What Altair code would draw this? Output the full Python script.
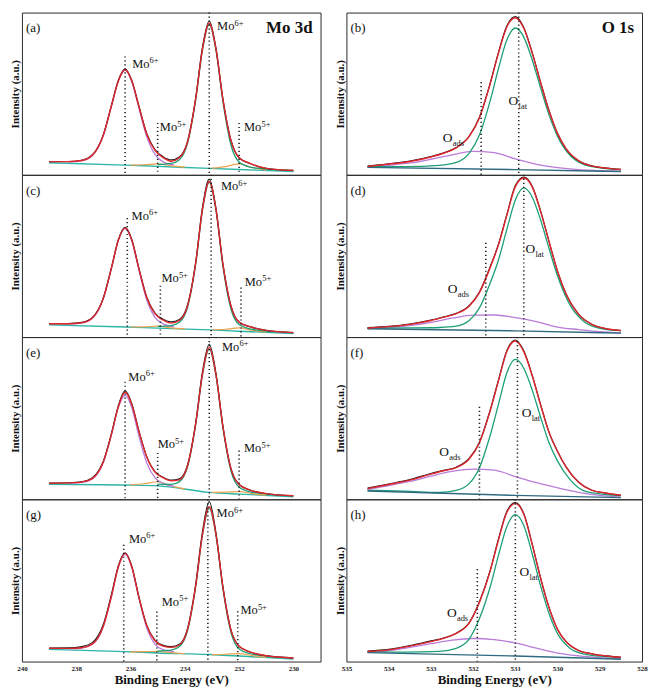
import altair as alt
import pandas as pd

SERIF = "Liberation Serif"

# ---------------- Mo 3d column (binding energy grids, eV) ----------------
MO_ENV_X = [239.0, 238.3, 237.8, 237.4, 237.0, 236.7, 236.45, 236.2, 235.95, 235.7, 235.4, 235.1, 234.8,
            234.5, 234.2, 233.9, 233.6, 233.35, 233.1, 232.85, 232.6, 232.3, 232.0, 231.6, 231.0, 230.0]
MO_P_X = [238.3, 237.8, 237.4, 237.0, 236.7, 236.45, 236.2, 235.95, 235.7, 235.4, 235.1, 234.8, 234.4]
MO_G_X = [235.0, 234.5, 234.2, 233.9, 233.6, 233.35, 233.1, 232.85, 232.6, 232.3, 232.0, 231.6, 231.2, 230.6]
MO_O1_X = [236.0, 235.5, 235.0, 234.5, 234.0]
MO_O2_X = [233.0, 232.5, 232.0, 231.5, 231.0]
MO_BG_X = [239.0, 236.2, 235.0, 233.1, 232.0, 230.0]
MO_TICKS = [240, 238, 236, 234, 232, 230]
MO_SUP = ["6+", "5+", "6+", "5+"]

# panel (a)
A_BG = [7.4, 6.0, 5.2, 4.0, 3.3, 2.0]
A_P = [7.9, 8.6, 11.9, 24.3, 42.4, 57.5, 64.5, 57.2, 41.8, 23.4, 12.6, 8.0, 6.1]
A_G = [6.3, 7.0, 9.3, 19.4, 46.2, 76.9, 92.6, 76.5, 45.6, 18.4, 7.9, 4.8, 3.9, 3.0]
A_O1 = [6.0, 6.2, 6.7, 5.5, 4.7]
A_O2 = [4.1, 5.1, 6.7, 4.4, 2.9]
A_ENV = [8.1, 8.1, 8.8, 12.2, 24.6, 42.8, 57.9, 64.8, 57.8, 42.7, 25.0, 15.1, 10.6,
         8.4, 10.5, 20.2, 46.8, 77.5, 93.4, 77.3, 47.0, 21.2, 10.5, 7.1, 4.0, 2.7]
A_RAW = [8.1, 8.2, 9.0, 12.4, 24.8, 43.0, 58.2, 65.3, 58.0, 42.9, 25.3, 15.6, 11.2,
         9.2, 11.0, 20.6, 47.3, 78.5, 94.8, 77.8, 47.2, 21.3, 10.5, 7.0, 4.0, 2.7]
A_LINE_X = [236.2, 235.0, 233.1, 232.0]
A_LINE_TOP = [73, 32, 100, 32]
A_LAB_X = [235.94, 234.92, 232.81, 231.82]
A_LAB_Y = [66, 27, 89, 27]

# panel (c)
C_BG = [7.5, 6.2, 5.5, 4.4, 3.6, 2.1]
C_P = [8.0, 8.6, 11.6, 23.7, 42.4, 59.3, 66.8, 59.1, 41.9, 22.8, 12.2, 8.1, 6.4]
C_G = [6.5, 7.1, 9.1, 18.4, 44.9, 78.2, 95.4, 77.9, 44.2, 17.3, 7.7, 5.0, 4.0, 3.2]
C_O1 = [6.2, 6.3, 6.7, 5.7, 5.0]
C_O2 = [4.5, 4.8, 5.6, 4.1, 3.0]
C_ENV = [8.2, 8.2, 8.8, 11.9, 24.0, 42.8, 59.7, 67.3, 59.7, 42.8, 24.2, 14.4, 10.5,
         8.6, 10.2, 19.2, 45.5, 78.7, 95.9, 78.5, 45.2, 19.1, 9.2, 6.4, 4.1, 2.7]
C_RAW = [8.2, 8.3, 9.0, 12.1, 24.2, 43.0, 60.0, 67.6, 60.0, 43.0, 24.5, 14.8, 11.0,
         9.4, 10.8, 19.6, 46.0, 79.8, 97.3, 79.0, 45.4, 19.2, 9.2, 6.4, 4.1, 2.7]
C_LINE_X = [236.12, 234.9, 233.03, 231.93]
C_LINE_TOP = [73.4, 31.7, 100, 30.5]
C_LAB_X = [235.96, 234.86, 232.67, 231.79]
C_LAB_Y = [72.4, 33.7, 90.6, 31.7]

# panel (e)
E_BG = [9.3, 8.8, 8.3, 4.3, 3.2, 1.6]
E_P = [9.9, 10.4, 12.6, 22.8, 39.9, 56.5, 64.1, 56.4, 39.6, 22.4, 13.3, 9.8, 8.0]
E_G = [9.4, 9.2, 10.9, 20.0, 46.0, 76.7, 92.5, 76.0, 44.4, 17.5, 7.4, 4.6, 3.6, 2.7]
E_O1 = [8.9, 9.6, 10.8, 8.3, 6.4]
E_O2 = [4.3, 4.4, 4.7, 3.5, 2.5]
E_ENV = [9.9, 10.1, 10.6, 12.9, 23.1, 40.3, 57.0, 66.0, 58.3, 42.5, 26.0, 16.8, 13.3,
         11.4, 12.0, 20.7, 46.5, 77.1, 93.5, 76.5, 45.2, 18.9, 9.1, 5.7, 3.5, 2.2]
E_RAW = [10.0, 10.2, 10.8, 13.3, 23.6, 40.8, 57.6, 66.8, 58.8, 42.8, 26.2, 17.0, 13.6,
         11.8, 12.6, 21.2, 47.0, 78.5, 95.5, 77.5, 45.6, 19.0, 9.1, 5.7, 3.5, 2.2]
E_LINE_X = [236.2, 235.0, 233.1, 232.0]
E_LINE_TOP = [72.5, 28.6, 100, 30]
E_LAB_X = [236.08, 235.0, 232.63, 231.82]
E_LAB_Y = [73.2, 31.6, 91.5, 29]

# panel (g)
G_BG = [7.5, 6.1, 5.3, 4.3, 3.4, 1.6]
G_P = [7.9, 8.3, 10.6, 21.6, 40.1, 58.0, 66.2, 57.7, 39.5, 20.7, 10.8, 7.3, 6.1]
G_G = [6.4, 7.0, 9.2, 19.0, 46.1, 77.9, 94.5, 77.6, 45.4, 18.0, 7.7, 4.8, 3.8, 2.8]
G_O1 = [6.0, 6.1, 6.3, 5.5, 4.8]
G_O2 = [4.3, 4.5, 4.9, 3.6, 2.6]
G_ENV = [8.2, 8.1, 8.5, 10.9, 21.9, 40.5, 58.4, 66.7, 58.3, 40.3, 22.0, 12.8, 9.5,
         8.7, 10.2, 19.7, 46.6, 78.3, 95.5, 78.1, 46.2, 19.4, 9.4, 5.9, 3.6, 2.2]
G_RAW = [8.3, 8.4, 9.2, 11.8, 23.0, 41.5, 59.0, 67.0, 58.6, 40.5, 22.3, 13.2, 10.0,
         9.2, 10.6, 20.3, 47.5, 80.0, 98.6, 79.0, 46.6, 19.5, 9.4, 5.9, 3.6, 2.2]
G_LINE_X = [236.25, 235.03, 233.15, 232.05]
G_LINE_TOP = [72, 30.8, 100, 31]
G_LAB_X = [236.06, 234.85, 232.83, 231.95]
G_LAB_Y = [73.3, 34.4, 89, 29.1]

# ---------------- O 1s column ----------------
O_ENV_X = [534.5, 534.0, 533.5, 533.0, 532.7, 532.4, 532.1, 531.85, 531.6, 531.4, 531.2, 531.0,
           530.8, 530.6, 530.4, 530.2, 530.0, 529.8, 529.5, 529.2, 528.9, 528.5]
O_G_X = [534.5, 533.6, 532.8, 532.4, 532.1, 531.85, 531.6, 531.4, 531.2, 531.0, 530.8, 530.6,
         530.4, 530.2, 530.0, 529.7, 529.4, 529.0, 528.5]
O_P_X = [534.5, 534.0, 533.5, 533.0, 532.5, 532.0, 531.5, 531.0, 530.5, 530.0, 529.5, 529.0, 528.5]
O_BG_X = [534.5, 531.0, 528.5]
O_TICKS = [535, 534, 533, 532, 531, 530, 529, 528]
O_SUB = ["ads", "lat"]

# panel (b)
B_BG = [4.6, 3.2, 2.0]
B_G = [5.0, 5.0, 5.8, 7.6, 13.1, 24.5, 45.3, 65.4, 83.2, 90.5, 84.9, 70.8, 53.4, 36.8, 23.7, 11.9, 6.6, 4.3, 3.2]
B_P = [4.7, 5.9, 7.3, 9.6, 12.3, 14.4, 13.7, 9.8, 6.5, 4.4, 3.2, 2.6, 2.1]
B_ENV = [5.2, 6.6, 8.2, 11.0, 13.3, 16.6, 23.4, 35.2, 55.7, 75.0, 91.3, 96.8,
         90.3, 75.0, 56.6, 39.3, 25.4, 16.1, 8.6, 5.5, 4.3, 3.3]
B_RAW = [5.4, 6.8, 8.5, 11.3, 13.5, 16.8, 23.6, 35.5, 56.0, 75.4, 91.8, 97.5,
         90.8, 75.3, 56.8, 39.4, 25.4, 16.0, 8.6, 5.5, 4.3, 3.3]
B_LINE_X = [531.81, 530.92]
B_LINE_TOP = [57.2, 100]
B_LAB_X = [532.72, 531.16]
B_LAB_Y = [20.5, 43.2]

# panel (d)
D_BG = [5.1, 3.8, 2.4]
D_G = [5.5, 5.6, 5.9, 6.7, 10.0, 18.0, 33.0, 47.5, 66.5, 84.5, 91.9, 86.2, 72.0, 54.4, 37.6, 19.5, 10.1, 5.4, 3.9]
D_P = [5.2, 5.8, 7.0, 9.0, 11.6, 13.5, 13.6, 12.0, 9.5, 6.1, 4.6, 3.3, 2.5]
D_ENV = [5.6, 6.4, 7.8, 10.2, 12.2, 14.4, 18.9, 27.4, 42.6, 56.8, 75.2, 92.7,
         98.0, 92.6, 77.3, 58.6, 40.5, 26.7, 14.0, 8.0, 5.4, 4.0]
D_RAW = [5.8, 6.6, 8.0, 10.4, 12.4, 14.6, 19.2, 27.8, 43.0, 57.2, 75.6, 93.4,
         98.6, 93.0, 77.5, 58.7, 40.5, 26.6, 14.0, 8.0, 5.4, 4.0]
D_LINE_X = [531.70, 530.80]
D_LINE_TOP = [58.1, 100]
D_LAB_X = [532.6, 530.76]
D_LAB_Y = [27, 52]

# panel (f)
F_BG = [5.1, 2.4, 1.0]
F_G = [5.5, 5.0, 4.2, 5.5, 9.5, 19.5, 39.0, 58.5, 78.0, 86.2, 80.8, 67.3, 50.5, 34.7, 23.5, 12.0, 5.5, 3.3, 2.2]
F_P = [6.1, 8.5, 11.0, 14.3, 17.2, 18.6, 18.0, 14.0, 10.2, 7.1, 4.3, 2.4, 1.3]
F_ENV = [6.6, 9.1, 11.8, 15.5, 17.6, 19.5, 24.7, 34.9, 54.2, 73.0, 91.2, 97.6,
         91.0, 76.1, 58.0, 41.1, 29.5, 20.0, 10.5, 5.7, 4.0, 2.5]
F_RAW = [6.9, 9.4, 12.1, 15.9, 17.8, 19.8, 25.0, 35.2, 54.6, 73.4, 91.7, 98.2,
         91.5, 76.4, 58.2, 41.2, 29.5, 20.0, 10.5, 5.7, 4.0, 2.5]
F_LINE_X = [531.85, 530.95]
F_LINE_TOP = [57, 100]
F_LAB_X = [532.8, 530.85]
F_LAB_Y = [26.6, 50.9]

# panel (h)
H_BG = [5.5, 3.4, 1.4]
H_G = [5.9, 5.8, 6.3, 8.1, 13.6, 26.5, 45.6, 65.4, 83.2, 90.5, 83.8, 66.3, 46.5, 29.5, 17.2, 8.1, 4.7, 3.3, 2.4]
H_P = [5.7, 6.6, 8.7, 11.0, 13.2, 14.2, 13.5, 11.5, 8.2, 5.2, 3.5, 2.4, 1.6]
H_ENV = [6.2, 7.2, 9.5, 12.3, 14.3, 17.3, 23.5, 36.6, 55.4, 74.9, 92.0, 97.3,
         90.8, 72.1, 51.2, 33.1, 19.8, 12.3, 6.8, 4.8, 3.6, 2.6]
H_RAW = [6.5, 7.5, 9.8, 12.7, 14.5, 17.5, 23.7, 36.9, 55.8, 75.4, 92.6, 97.9,
         91.2, 72.4, 51.3, 33.1, 19.8, 12.3, 6.8, 4.8, 3.6, 2.6]
H_LINE_X = [531.9, 531.0]
H_LINE_TOP = [57, 100]
H_LAB_X = [532.62, 530.9]
H_LAB_Y = [27.7, 52.6]

# ---------------- styling ----------------
RED = "#e0262c"
BLACK = "#222222"
PURPLE = "#b97cd8"
GREEN = "#1c9f76"
ORANGE = "#eca24c"
MO_BGC = "#2db5a8"
O_BGC = "#2f6a80"

W_L, W_R, H = 300, 297, 163

MO_XSC = alt.Scale(domain=[229, 240], reverse=True, nice=False, zero=False)
O_XSC = alt.Scale(domain=[528, 535], reverse=True, nice=False, zero=False)
YSC = alt.Scale(domain=[0, 100], nice=False, zero=False)

YAX = alt.Axis(title="Intensity (a.u.)", labels=False, ticks=False, domain=False, grid=False,
               titleFont=SERIF, titleFontSize=11, titleFontWeight="bold", titleColor="#111111",
               titlePadding=1)


def xaxis(values, bottom):
    if not bottom:
        return None
    return alt.Axis(values=values, format="d", title="Binding Energy (eV)", labelFont=SERIF,
                    labelFontSize=7, labelFontWeight="bold", labelColor="#222222", labelPadding=3,
                    labelFlush=False, ticks=False, domain=False, grid=False, titleFont=SERIF,
                    titleFontSize=13, titleFontWeight="bold", titleColor="#111111", titlePadding=2)


def curve(xs, ys, color, width, xsc, xax):
    df = pd.DataFrame({"x": xs, "y": ys})
    return alt.Chart(df).mark_line(color=color, strokeWidth=width, interpolate="monotone").encode(
        x=alt.X("x:Q", scale=xsc, axis=xax),
        y=alt.Y("y:Q", scale=YSC, axis=YAX),
        order=alt.Order("x:Q", sort="descending"),
    )


def rules(xs, tops, xsc, xax):
    df = pd.DataFrame({"x": xs, "top": tops, "bot": [0] * len(xs)})
    return alt.Chart(df).mark_rule(color="#222222", strokeWidth=1.6, strokeDash=[1.2, 2.8]).encode(
        x=alt.X("x:Q", scale=xsc, axis=xax),
        y=alt.Y("top:Q", scale=YSC, axis=YAX),
        y2="bot:Q",
    )


def labels(xs, ys, main, extra, xsc, xax, main_size, extra_size, dx, dy):
    df = pd.DataFrame({"x": xs, "y": ys, "s": extra})
    enc = dict(x=alt.X("x:Q", scale=xsc, axis=xax), y=alt.Y("y:Q", scale=YSC, axis=YAX))
    t1 = alt.Chart(df).mark_text(text=main, align="left", baseline="alphabetic", font=SERIF,
                                 fontSize=main_size, color="#111111").encode(**enc)
    t2 = alt.Chart(df).mark_text(align="left", baseline="alphabetic", font=SERIF, fontSize=extra_size,
                                 color="#111111", dx=dx, dy=dy).encode(text="s:N", **enc)
    return [t1, t2]


def corner(letter, title, width):
    out = [alt.Chart(pd.DataFrame({"t": [letter]})).mark_text(
        align="left", baseline="alphabetic", font=SERIF, fontSize=13, color="#111111").encode(
        x=alt.value(4), y=alt.value(20), text="t:N")]
    if title:
        out.append(alt.Chart(pd.DataFrame({"t": [title]})).mark_text(
            align="right", baseline="alphabetic", font=SERIF, fontSize=17, fontWeight="bold",
            color="#111111").encode(x=alt.value(width - 8), y=alt.value(21), text="t:N"))
    return out


def mo_panel(letter, env, raw, pp, gg, o1, o2, bg, lx, ltop, labx, laby, bottom, title=None):
    xax = xaxis(MO_TICKS, bottom)
    layers = [
        curve(MO_BG_X, bg, MO_BGC, 1.4, MO_XSC, xax),
        curve(MO_O1_X, o1, ORANGE, 1.2, MO_XSC, xax),
        curve(MO_O2_X, o2, ORANGE, 1.2, MO_XSC, xax),
        curve(MO_P_X, pp, PURPLE, 1.3, MO_XSC, xax),
        curve(MO_G_X, gg, GREEN, 1.3, MO_XSC, xax),
        curve(MO_ENV_X, raw, BLACK, 1.2, MO_XSC, xax),
        curve(MO_ENV_X, env, RED, 1.4, MO_XSC, xax),
        rules(lx, ltop, MO_XSC, xax),
    ]
    layers += labels(labx, laby, "Mo", MO_SUP, MO_XSC, xax, 12.5, 8.5, 17.5, -4.5)
    layers += corner(letter, title, W_L)
    return alt.layer(*layers).properties(width=W_L, height=H)


def o_panel(letter, env, raw, pp, gg, bg, lx, ltop, labx, laby, bottom, title=None):
    xax = xaxis(O_TICKS, bottom)
    layers = [
        curve(O_P_X, pp, PURPLE, 1.3, O_XSC, xax),
        curve(O_G_X, gg, GREEN, 1.3, O_XSC, xax),
        curve(O_BG_X, bg, O_BGC, 1.4, O_XSC, xax),
        curve(O_ENV_X, raw, BLACK, 1.2, O_XSC, xax),
        curve(O_ENV_X, env, RED, 1.4, O_XSC, xax),
        rules(lx, ltop, O_XSC, xax),
    ]
    layers += labels(labx, laby, "O", O_SUB, O_XSC, xax, 13.5, 8.5, 10, 4)
    layers += corner(letter, title, W_R)
    return alt.layer(*layers).properties(width=W_R, height=H)


left = alt.vconcat(
    mo_panel("(a)", A_ENV, A_RAW, A_P, A_G, A_O1, A_O2, A_BG, A_LINE_X, A_LINE_TOP, A_LAB_X, A_LAB_Y, False, "Mo 3d"),
    mo_panel("(c)", C_ENV, C_RAW, C_P, C_G, C_O1, C_O2, C_BG, C_LINE_X, C_LINE_TOP, C_LAB_X, C_LAB_Y, False),
    mo_panel("(e)", E_ENV, E_RAW, E_P, E_G, E_O1, E_O2, E_BG, E_LINE_X, E_LINE_TOP, E_LAB_X, E_LAB_Y, False),
    mo_panel("(g)", G_ENV, G_RAW, G_P, G_G, G_O1, G_O2, G_BG, G_LINE_X, G_LINE_TOP, G_LAB_X, G_LAB_Y, True),
    spacing=0, bounds="flush",
)
right = alt.vconcat(
    o_panel("(b)", B_ENV, B_RAW, B_P, B_G, B_BG, B_LINE_X, B_LINE_TOP, B_LAB_X, B_LAB_Y, False, "O 1s"),
    o_panel("(d)", D_ENV, D_RAW, D_P, D_G, D_BG, D_LINE_X, D_LINE_TOP, D_LAB_X, D_LAB_Y, False),
    o_panel("(f)", F_ENV, F_RAW, F_P, F_G, F_BG, F_LINE_X, F_LINE_TOP, F_LAB_X, F_LAB_Y, False),
    o_panel("(h)", H_ENV, H_RAW, H_P, H_G, H_BG, H_LINE_X, H_LINE_TOP, H_LAB_X, H_LAB_Y, True),
    spacing=0, bounds="flush",
)

chart = alt.hconcat(left, right, spacing=12).properties(
    padding=1, background="white"
).configure(font=SERIF).configure_view(stroke="#2a2a2a", strokeWidth=1)

chart.save("out.html", embed_options={"renderer": "svg", "actions": False})
